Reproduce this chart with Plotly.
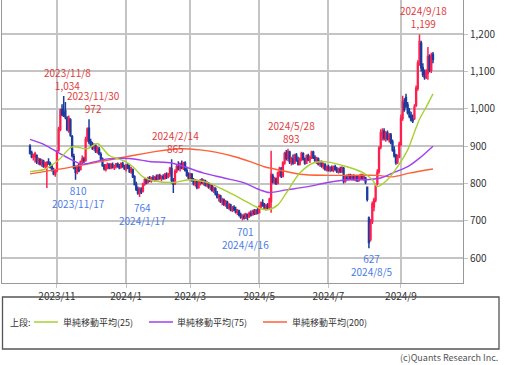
import plotly.graph_objects as go
import pandas as pd

# ---------------- data ----------------
jp_holidays = ['2023-11-03', '2023-11-23', '2024-01-01', '2024-01-02', '2024-01-03',
               '2024-01-08', '2024-02-12', '2024-02-23', '2024-03-20', '2024-04-29',
               '2024-05-03', '2024-05-06', '2024-07-15', '2024-08-12', '2024-09-16',
               '2024-09-23']

open_ = [
    # 2023/10
    900, 882, 872, 872, 875, 858, 865, 852, 860, 846, 848, 858, 852, 846, 836, 826,
    # 2023/11
    835, 890, 945, 998, 990, 995, 975, 942, 970, 925, 872, 840, 832, 845, 838, 860, 866, 862, 920, 948,
    # 2023/12
    912, 905, 895, 900, 886, 892, 878, 866, 848, 838, 846, 850, 842, 850, 843, 846, 852, 845, 842, 852, 846,
    # 2024/1
    840, 848, 842, 832, 836, 818, 798, 785, 775, 785, 780, 798, 810, 803, 814, 808, 815, 810, 816,
    # 2024/2
    812, 820, 814, 818, 814, 822, 818, 826, 840, 808, 800, 834, 845, 840, 852, 842, 855, 835, 822,
    # 2024/3
    815, 824, 808, 800, 806, 790, 802, 808, 802, 806, 796, 800, 790, 795, 782, 786, 772, 764, 766, 752,
    # 2024/4
    756, 745, 750, 736, 742, 730, 736, 730, 724, 726, 716, 710, 712, 708, 716, 712, 720, 716, 726, 720, 728,
    # 2024/5
    722, 738, 748, 742, 734, 740, 736, 752, 820, 805, 812, 800, 826, 838, 820, 855, 882, 868, 884, 858, 866,
    # 2024/6
    855, 876, 862, 852, 866, 880, 866, 855, 874, 864, 870, 884, 870, 862, 866, 852, 858, 846, 850, 838,
    # 2024/7
    844, 836, 842, 836, 845, 838, 832, 838, 832, 840, 806, 816, 812, 822, 814, 820, 812, 818, 808, 816, 822, 814,
    # 2024/8
    815, 790, 708, 652, 698, 738, 756, 800, 832, 898, 930, 940, 920, 935, 918, 930, 912, 890, 876, 858, 872,
    # 2024/9 - 10/1
    905, 975, 1015, 1030, 1010, 992, 982, 972, 975, 1010, 1055, 1125, 1175, 1110, 1095, 1085, 1095, 1140, 1104, 1145,
]
high = [
    905, 888, 880, 885, 878, 870, 868, 866, 864, 858, 860, 868, 858, 850, 842, 838,
    890, 952, 1000, 1012, 1034, 1018, 980, 982, 975, 930, 880, 848, 850, 855, 862, 875, 872, 925, 950, 972,
    920, 912, 908, 905, 900, 898, 884, 870, 852, 852, 856, 854, 855, 856, 850, 855, 856, 852, 856, 858, 850,
    852, 855, 850, 845, 840, 822, 805, 792, 790, 790, 802, 815, 815, 818, 820, 818, 822, 820, 824,
    825, 826, 822, 825, 828, 830, 828, 845, 865, 815, 838, 850, 860, 856, 862, 858, 860, 845, 830,
    828, 828, 815, 812, 810, 808, 812, 815, 812, 810, 806, 804, 800, 798, 792, 790, 780, 772, 770, 762,
    760, 756, 754, 748, 746, 740, 742, 738, 732, 730, 722, 718, 720, 722, 720, 725, 728, 730, 732, 732, 735,
    742, 752, 758, 748, 746, 748, 762, 888, 826, 818, 816, 832, 845, 844, 860, 885, 890, 893, 888, 872, 878,
    880, 882, 872, 870, 885, 884, 870, 878, 880, 875, 888, 888, 876, 872, 870, 862, 862, 856, 854, 848,
    850, 846, 848, 848, 850, 844, 842, 845, 846, 844, 820, 824, 826, 826, 824, 825, 822, 822, 820, 826, 826, 824,
    818, 792, 712, 705, 752, 762, 800, 838, 900, 945, 948, 948, 940, 942, 935, 935, 918, 900, 880, 878, 912,
    985, 1035, 1028, 1040, 1018, 1002, 992, 985, 1012, 1062, 1130, 1199, 1182, 1122, 1105, 1106, 1165, 1146, 1150, 1152,
]
low = [
    878, 868, 862, 856, 852, 850, 848, 845, 842, 840, 788, 850, 840, 832, 822, 818,
    830, 885, 940, 980, 978, 972, 940, 936, 925, 870, 838, 810, 825, 830, 835, 852, 855, 858, 912, 905,
    898, 890, 888, 882, 880, 876, 862, 845, 835, 832, 838, 838, 838, 840, 836, 840, 842, 838, 840, 842, 836,
    832, 838, 828, 826, 815, 795, 780, 770, 764, 772, 776, 794, 798, 800, 804, 802, 806, 805, 808,
    808, 810, 806, 810, 810, 812, 814, 818, 800, 775, 796, 828, 835, 832, 838, 836, 832, 818, 810,
    808, 805, 795, 792, 785, 786, 795, 798, 795, 792, 790, 786, 782, 778, 775, 768, 760, 752, 748, 742,
    740, 738, 732, 730, 726, 724, 726, 720, 716, 712, 706, 701, 704, 705, 702, 708, 712, 714, 716, 716, 718,
    720, 732, 738, 730, 728, 730, 732, 722, 800, 798, 796, 798, 818, 815, 816, 850, 862, 860, 852, 848, 850,
    852, 858, 848, 848, 860, 862, 850, 852, 860, 855, 866, 866, 858, 852, 848, 845, 842, 838, 834, 832,
    832, 830, 832, 830, 834, 828, 826, 828, 828, 800, 802, 808, 808, 810, 808, 808, 806, 804, 805, 810, 810, 808,
    798, 752, 627, 645, 692, 726, 750, 795, 826, 892, 915, 915, 912, 915, 910, 905, 885, 870, 850, 852, 868,
    900, 968, 992, 1002, 985, 975, 966, 962, 970, 1005, 1048, 1115, 1100, 1085, 1078, 1080, 1078, 1098, 1096, 1122,
]
close = [
    882, 872, 876, 880, 858, 866, 852, 862, 846, 855, 856, 852, 844, 836, 826, 834,
    885, 945, 995, 985, 982, 978, 945, 975, 930, 875, 842, 830, 845, 835, 858, 866, 862, 918, 945, 912,
    905, 895, 902, 886, 895, 880, 866, 848, 840, 848, 852, 842, 850, 844, 846, 852, 846, 842, 854, 846, 840,
    848, 842, 832, 838, 818, 798, 785, 775, 785, 778, 798, 810, 802, 814, 808, 815, 810, 816, 812,
    822, 814, 818, 814, 824, 818, 825, 840, 808, 798, 832, 845, 840, 852, 842, 855, 835, 822, 815,
    824, 808, 800, 808, 790, 804, 808, 802, 806, 796, 800, 790, 795, 782, 788, 772, 764, 768, 752, 758,
    745, 752, 736, 744, 730, 736, 730, 724, 728, 716, 710, 714, 708, 718, 712, 720, 716, 726, 720, 728, 722,
    738, 748, 742, 734, 742, 736, 758, 825, 805, 812, 800, 828, 840, 820, 855, 880, 868, 885, 858, 866, 855,
    876, 862, 852, 866, 880, 866, 855, 874, 864, 870, 884, 870, 862, 868, 852, 858, 846, 852, 838, 844,
    836, 842, 835, 845, 838, 832, 838, 832, 842, 806, 816, 812, 822, 814, 820, 812, 818, 808, 816, 822, 814, 818,
    804, 758, 642, 692, 745, 756, 795, 830, 895, 935, 940, 922, 935, 920, 930, 910, 890, 875, 856, 872, 905,
    975, 1020, 998, 1008, 990, 980, 970, 968, 1005, 1055, 1122, 1180, 1110, 1092, 1084, 1100, 1140, 1104, 1142, 1132,
]

ma25_dates = ['2023-10-10', '2023-10-20', '2023-10-24', '2023-11-02', '2023-11-15', '2023-11-29',
              '2023-12-07', '2023-12-18', '2023-12-29', '2024-01-11', '2024-01-19', '2024-01-31',
              '2024-02-15', '2024-03-01', '2024-03-15', '2024-04-01', '2024-04-15', '2024-04-30',
              '2024-05-10', '2024-05-20', '2024-05-27', '2024-06-06', '2024-06-18', '2024-06-28',
              '2024-07-17', '2024-07-31', '2024-08-07', '2024-08-13', '2024-08-21', '2024-08-29',
              '2024-09-06', '2024-09-11', '2024-09-18', '2024-09-25', '2024-10-01']
ma25_vals = [832, 837, 841, 863, 898, 893, 907, 875, 860, 845, 818, 806, 803, 810, 803, 783, 760,
             736, 730, 743, 775, 828, 855, 858, 845, 828, 810, 792, 810, 845, 890, 925, 972, 1005, 1040]

ma75_dates = ['2023-10-10', '2023-10-23', '2023-11-02', '2023-11-15', '2023-11-24', '2023-12-05',
              '2023-12-15', '2024-01-09', '2024-01-25', '2024-02-14', '2024-02-28', '2024-03-13',
              '2024-04-01', '2024-04-17', '2024-05-02', '2024-05-13', '2024-05-27', '2024-06-12',
              '2024-06-28', '2024-07-17', '2024-07-31', '2024-08-15', '2024-08-26', '2024-09-06',
              '2024-09-18', '2024-10-01']
ma75_vals = [918, 903, 882, 863, 852, 858, 866, 867, 859, 855, 843, 828, 815, 802, 782, 776, 783,
             791, 802, 810, 810, 815, 828, 845, 868, 900]

ma200_dates = ['2023-10-10', '2023-11-10', '2023-12-08', '2024-01-11', '2024-01-31', '2024-02-21',
               '2024-03-11', '2024-03-25', '2024-04-10', '2024-04-23', '2024-05-08', '2024-05-20',
               '2024-06-06', '2024-06-28', '2024-07-19', '2024-08-13', '2024-08-26', '2024-09-09',
               '2024-10-01']
ma200_vals = [826, 842, 858, 875, 886, 893, 890, 884, 871, 858, 845, 837, 825, 822, 822, 822, 818,
              828, 839]

high_marks = [('2023-11-08', 1034), ('2023-11-30', 972), ('2024-02-14', 865),
              ('2024-05-28', 893), ('2024-09-18', 1199)]
low_marks = [('2023-11-17', 810), ('2024-01-17', 764), ('2024-04-16', 701), ('2024-08-05', 627)]

tick_dates = ['2023-11-01', '2024-01-04', '2024-03-01', '2024-05-01', '2024-07-01', '2024-09-02']
tick_labels = ['2023/11', '2024/1', '2024/3', '2024/5', '2024/7', '2024/9']
y_ticks = [600, 700, 800, 900, 1000, 1100, 1200]

legend_names = ['単純移動平均(25)', '単純移動平均(75)', '単純移動平均(200)']

# ---------------- build ----------------
days = pd.bdate_range('2023-10-10', '2024-10-01', freq='C', holidays=jp_holidays)
N = len(close)
days = days[:N]
idx = {d.strftime('%Y-%m-%d'): i for i, d in enumerate(days)}
xs = list(range(N))

RED = '#ff1f4f'
BLUE = '#1b3c9c'
C25 = '#a8d030'
C75 = '#a040f0'
C200 = '#ff6038'
FONT = 'Noto Sans CJK JP, Noto Sans, sans-serif'

fig = go.Figure()
fig.add_trace(go.Candlestick(
    x=xs, open=open_, high=high, low=low, close=close,
    increasing=dict(line=dict(color=RED, width=1.5), fillcolor=RED),
    decreasing=dict(line=dict(color=BLUE, width=1.5), fillcolor=BLUE),
    whiskerwidth=0, showlegend=False, hoverinfo='skip'))

for dts, vals, col in [(ma200_dates, ma200_vals, C200), (ma75_dates, ma75_vals, C75),
                       (ma25_dates, ma25_vals, C25)]:
    fig.add_trace(go.Scatter(x=[idx[d] for d in dts], y=vals, mode='lines',
                             line=dict(color=col, width=1.4, shape='spline', smoothing=0.8),
                             showlegend=False, hoverinfo='skip'))

annotations = []
for d, v in high_marks:
    t = pd.Timestamp(d)
    annotations.append(dict(x=idx[d], y=v, xref='x', yref='y', showarrow=False,
                            text=f'{t.year}/{t.month}/{t.day}<br>{v:,}', xshift=4, yshift=1,
                            xanchor='center', yanchor='bottom',
                            font=dict(family=FONT, size=10, color='#e03c3c')))
for d, v in low_marks:
    t = pd.Timestamp(d)
    annotations.append(dict(x=idx[d], y=v, xref='x', yref='y', showarrow=False,
                            text=f'{v:,}<br>{t.year}/{t.month}/{t.day}', xshift=3, yshift=-1,
                            xanchor='center', yanchor='top',
                            font=dict(family=FONT, size=10, color='#4a7ce6')))

# legend (drawn below the plot, in paper coordinates)
W_PLOT, H_PLOT = 461.0, 283.0
def px(xp):
    return (xp - 2) / W_PLOT
def py(yp):
    return (283 - yp) / H_PLOT

shapes = [dict(type='rect', xref='paper', yref='paper', x0=px(2.5), x1=px(499), y0=py(349), y1=py(297),
               line=dict(color='#555555', width=1.3), fillcolor='rgba(0,0,0,0)')]
leg_y = py(322)
annotations.append(dict(x=px(8), y=leg_y, xref='paper', yref='paper', text='上段:', showarrow=False,
                        xanchor='left', yanchor='middle', font=dict(family=FONT, size=9, color='#333')))
for (x0, x1, xt), col, name in zip([(34, 58, 61), (149, 173, 175), (263, 287, 290)],
                                    [C25, C75, C200], legend_names):
    shapes.append(dict(type='line', xref='paper', yref='paper', x0=px(x0), x1=px(x1), y0=leg_y, y1=leg_y,
                       line=dict(color=col, width=1.5)))
    annotations.append(dict(x=px(xt), y=leg_y, xref='paper', yref='paper', text=name, showarrow=False,
                            xanchor='left', yanchor='middle', font=dict(family=FONT, size=9, color='#333')))
annotations.append(dict(x=px(500), y=py(357), xref='paper', yref='paper', text='(c)Quants Research Inc.',
                        showarrow=False, xanchor='right', yanchor='middle',
                        font=dict(family=FONT, size=9, color='#555')))

axis_common = dict(showgrid=True, gridcolor='#c4c4c4', gridwidth=1.5, zeroline=False,
                   showline=True, mirror=True, linecolor='#999999', linewidth=1,
                   ticks='outside', ticklen=4, tickcolor='#c4c4c4',
                   tickfont=dict(family=FONT, size=10, color='#333'))

fig.update_layout(
    width=507, height=365, margin=dict(l=2, r=44, t=0, b=82),
    paper_bgcolor='white', plot_bgcolor='white', showlegend=False,
    xaxis=dict(range=[-16.6, 256.8], tickvals=[idx[d] for d in tick_dates], ticktext=tick_labels,
               rangeslider=dict(visible=False), **axis_common),
    yaxis=dict(range=[534, 1291], side='right', tickvals=y_ticks, tickformat=',', **axis_common),
    annotations=annotations, shapes=shapes,
)

fig.write_html('out.html', config={'displayModeBar': False},
               post_script="document.body.style.margin='0';document.body.style.overflow='hidden';")
